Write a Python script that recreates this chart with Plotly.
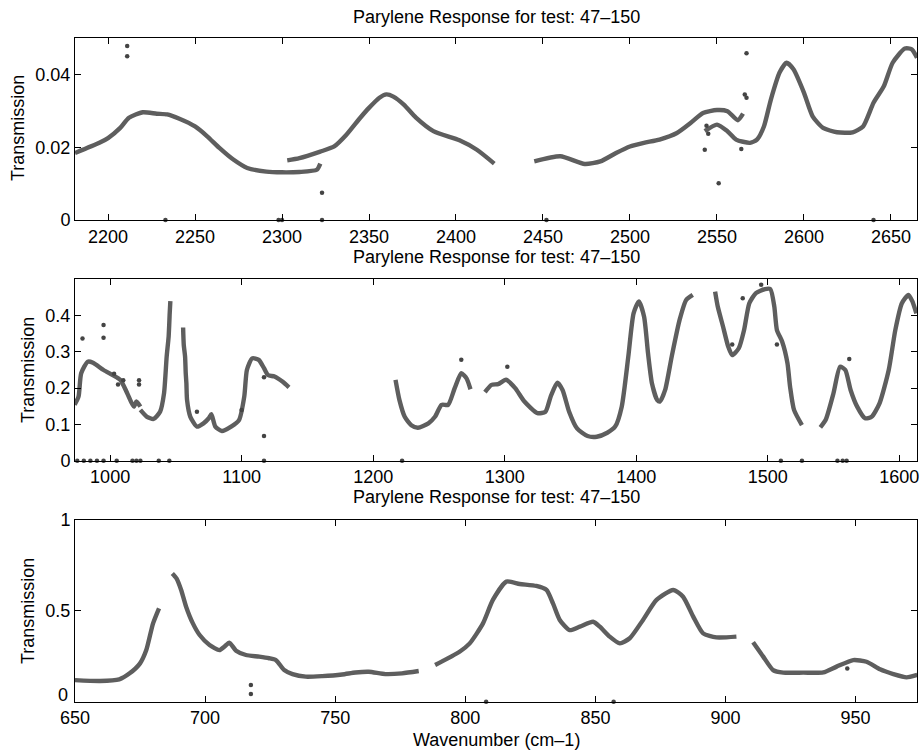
import plotly.graph_objects as go

# ---------------- data ----------------
# Top panel (2181-2665 cm-1); None separates disconnected segments
top_x = [2181, 2195, 2200, 2207, 2212, 2220, 2228, 2234, 2241, 2250, 2257, 2264, 2272, 2280, 2291, 2300, 2310, 2320, 2322, None,
         2303, 2310, 2322, 2330, 2337, 2345, 2350, 2356, 2360, 2364, 2370, 2377, 2387, 2402, 2412, 2422, None,
         2445, 2460, 2474, 2483, 2492, 2500, 2508, 2517, 2527, 2535, 2542, 2550, 2556, 2562, 2565, None,
         2543, 2550, 2556, 2561, 2569, 2573, 2577, 2581, 2586, 2590, 2594, 2600, 2605, 2611, 2619, 2628, 2634, 2640, 2646, 2651, 2658, 2662, 2665]
top_y = [0.0184, 0.0212, 0.0225, 0.0253, 0.0281, 0.0296, 0.0292, 0.0290, 0.0278, 0.0257, 0.0230, 0.0198, 0.0166, 0.0143, 0.0133, 0.0131, 0.0132, 0.0138, 0.0155, None,
         0.0164, 0.0170, 0.0188, 0.0202, 0.0234, 0.0281, 0.0308, 0.0336, 0.0345, 0.0339, 0.0317, 0.0281, 0.0244, 0.0219, 0.0193, 0.0155, None,
         0.0161, 0.0175, 0.0154, 0.0161, 0.0184, 0.0202, 0.0212, 0.0221, 0.0239, 0.0267, 0.0294, 0.0302, 0.0299, 0.0274, 0.0292, None,
         0.0244, 0.0262, 0.0244, 0.0221, 0.0212, 0.0221, 0.0257, 0.0331, 0.0405, 0.0432, 0.0414, 0.0350, 0.0285, 0.0253, 0.0241, 0.0241, 0.0257, 0.0322, 0.0368, 0.0432, 0.0471, 0.0469, 0.0446]
top_out_x = [2211, 2211, 2323, 2551, 2564, 2543, 2566, 2567, 2567, 2544, 2545, 2233, 2298, 2300, 2323, 2452, 2640]
top_out_y = [0.0478, 0.0450, 0.0075, 0.0101, 0.0195, 0.0193, 0.0345, 0.0336, 0.0458, 0.0259, 0.0237, 0, 0, 0, 0, 0, 0]

# Middle panel (973-1613 cm-1)
mid_x = [973, 976, 978, 983, 987, 995, 1002, 1008, 1013, 1018, 1020, 1023, None,
         1023, 1028, 1033, 1038, 1041, 1043, 1044.5, 1045.3, 1045.8, None,
         1055.5, 1056, 1057, 1057.5, 1058, 1058.5, 1061, 1066, 1071, 1075, 1077, 1080, 1085, 1092, 1098, 1102, 1104, 1108, 1113, 1117, 1120, 1125, 1131, 1136, None,
         1217, 1220, 1224, 1229, 1234, 1242, 1247, 1252, 1257, 1262, 1267, 1271, 1274, None,
         1285, 1290, 1295, 1301, 1308, 1315, 1325, 1331, 1335, 1340, 1344, 1349, 1355, 1363, 1370, 1378, 1384, 1389, 1394, 1398, 1402, 1406, 1409, 1412, 1416, 1418, 1422, 1427, 1433, 1438, 1443, None,
         1460, 1462, 1466, 1470, 1473, 1478, 1482, 1486, 1491, 1498, 1502, 1505, 1507, 1511, 1515, 1517, 1520, 1526, None,
         1540, 1544, 1550, 1555, 1559, 1563, 1568, 1574, 1579, 1585, 1592, 1597, 1602, 1607, 1610, 1613]
mid_y = [0.154, 0.177, 0.241, 0.273, 0.270, 0.250, 0.236, 0.222, 0.186, 0.149, 0.163, 0.149, None,
         0.140, 0.121, 0.115, 0.135, 0.186, 0.287, 0.342, 0.406, 0.440, None,
         0.367, 0.319, 0.287, 0.241, 0.213, 0.167, 0.121, 0.094, 0.103, 0.117, 0.128, 0.094, 0.082, 0.094, 0.112, 0.177, 0.250, 0.282, 0.278, 0.255, 0.236, 0.232, 0.218, 0.202, None,
         0.223, 0.167, 0.121, 0.098, 0.091, 0.103, 0.121, 0.154, 0.154, 0.200, 0.241, 0.227, 0.197, None,
         0.189, 0.209, 0.211, 0.223, 0.200, 0.163, 0.131, 0.135, 0.177, 0.215, 0.195, 0.135, 0.089, 0.068, 0.066, 0.077, 0.094, 0.149, 0.287, 0.406, 0.439, 0.397, 0.296, 0.213, 0.167, 0.163, 0.195, 0.287, 0.388, 0.443, 0.457, None,
         0.466, 0.425, 0.370, 0.314, 0.291, 0.310, 0.360, 0.434, 0.462, 0.473, 0.473, 0.425, 0.360, 0.328, 0.269, 0.204, 0.140, 0.098, None,
         0.092, 0.112, 0.186, 0.259, 0.250, 0.195, 0.149, 0.117, 0.121, 0.158, 0.250, 0.360, 0.434, 0.457, 0.439, 0.406]
mid_out_x = [979, 995, 995, 1003, 1006, 1010, 1022, 1022, 1066, 1100, 1117, 1117, 1267, 1302, 1481, 1495, 1507, 1562, 1473,
             975, 980, 985, 990, 995, 1005, 1017, 1020, 1023, 1037, 1045, 1117, 1222, 1510, 1526, 1553, 1557, 1560]
mid_out_y = [0.337, 0.339, 0.374, 0.240, 0.210, 0.222, 0.210, 0.222, 0.135, 0.140, 0.230, 0.068, 0.278, 0.259, 0.448, 0.485, 0.320, 0.280, 0.320,
             0, 0, 0, 0, 0, 0, 0, 0, 0, 0, 0, 0, 0, 0, 0, 0, 0, 0]

# Bottom panel (650-974 cm-1)
bot_x = [650, 659.6, 667, 671, 675, 677.4, 680, 682.3, None,
         687.4, 689, 690.8, 692.7, 695.3, 697.9, 701.7, 705.5, 707.4, 709.3, 711.9, 715.7, 720.8, 724.6, 727.2, 730.4, 733.6, 738.7, 745, 752.7, 757.8, 762.9, 769.3, 775.7, 782.1, None,
         788.4, 797.8, 801.7, 806.8, 810.6, 815.8, 820.9, 827.3, 831.2, 833.7, 836.3, 840.1, 844, 849.1, 851.7, 855.5, 859.4, 863.2, 868.3, 873.5, 879.9, 883.7, 887.6, 891.4, 896.5, 904.2, None,
         910.6, 914.5, 918.3, 922.2, 929.9, 937.6, 942.7, 949.1, 954.2, 959.4, 964.5, 969.6, 973.7]
bot_y = [0.119, 0.114, 0.123, 0.156, 0.211, 0.284, 0.431, 0.514, None,
         0.706, 0.679, 0.615, 0.523, 0.431, 0.367, 0.312, 0.284, 0.303, 0.325, 0.281, 0.257, 0.248, 0.239, 0.229, 0.174, 0.152, 0.138, 0.141, 0.150, 0.161, 0.165, 0.152, 0.156, 0.169, None,
         0.202, 0.275, 0.321, 0.431, 0.560, 0.661, 0.648, 0.637, 0.615, 0.541, 0.450, 0.394, 0.413, 0.440, 0.413, 0.358, 0.321, 0.349, 0.450, 0.560, 0.615, 0.578, 0.468, 0.376, 0.354, 0.358, None,
         0.327, 0.248, 0.174, 0.160, 0.160, 0.161, 0.193, 0.229, 0.220, 0.178, 0.152, 0.134, 0.147]
bot_out_x = [717.6, 717.6, 946.8, 808, 857]
bot_out_y = [0.092, 0.042, 0.183, 0, 0]

title_text = "Parylene Response for test: 47\u2013150"
ylabel = "Transmission"
xlabel = "Wavenumber (cm\u20131)"

# ---------------- figure ----------------
W, H = 922, 752
FONT = "Liberation Sans, Arial, Helvetica, sans-serif"
FS = 18
LINE_COL = "#5e5e5e"
DOT_COL = "#444444"

fig = go.Figure()
panels = [
    (top_x, top_y, top_out_x, top_out_y, "x", "y"),
    (mid_x, mid_y, mid_out_x, mid_out_y, "x2", "y2"),
    (bot_x, bot_y, bot_out_x, bot_out_y, "x3", "y3"),
]
for px, py, ox, oy, xa, ya in panels:
    fig.add_trace(go.Scatter(x=px, y=py, mode="lines",
                             line=dict(color=LINE_COL, width=4.4, shape="spline", smoothing=0.6),
                             connectgaps=False, xaxis=xa, yaxis=ya, showlegend=False, hoverinfo="skip"))
    fig.add_trace(go.Scatter(x=ox, y=oy, mode="markers", marker=dict(color=DOT_COL, size=4.5),
                             xaxis=xa, yaxis=ya, showlegend=False, cliponaxis=False, hoverinfo="skip"))

x0, x1 = 75 / W, 917 / W
def ydom(top_px, bot_px):
    return [1 - bot_px / H, 1 - top_px / H]

axis_common = dict(showline=True, linecolor="black", linewidth=1, mirror="ticks", ticks="inside",
                   ticklen=6, tickcolor="black", showgrid=False, zeroline=False, automargin=False,
                   tickfont=dict(family=FONT, size=FS, color="black"))

fig.update_layout(
    width=W, height=H, margin=dict(l=0, r=0, t=0, b=0, pad=0, autoexpand=False),
    paper_bgcolor="white", plot_bgcolor="white",
    xaxis=dict(domain=[x0, x1], range=[2181, 2665], tickvals=[2200, 2250, 2300, 2350, 2400, 2450, 2500, 2550, 2600, 2650], anchor="y", **axis_common),
    yaxis=dict(domain=ydom(38, 220), range=[0, 0.05], tickvals=[0, 0.02, 0.04], ticktext=["0", "0.02", "0.04"], anchor="x", **axis_common),
    xaxis2=dict(domain=[x0, x1], range=[973.3, 1613.5], tickvals=[1000, 1100, 1200, 1300, 1400, 1500, 1600], anchor="y2", **axis_common),
    yaxis2=dict(domain=ydom(279.3, 460.7), range=[0, 0.5], tickvals=[0, 0.1, 0.2, 0.3, 0.4], ticktext=["0", "0.1", "0.2", "0.3", "0.4"], anchor="x2", **axis_common),
    xaxis3=dict(domain=[x0, x1], range=[650, 973.6], tickvals=[650, 700, 750, 800, 850, 900, 950], anchor="y3", **axis_common),
    yaxis3=dict(domain=ydom(520, 701.7), range=[0, 1], tickvals=[0, 0.5, 1], ticktext=["", "0.5", "1"], anchor="x3", **axis_common),
)

ann = []
cx = (75 + 917) / 2 / W
for yc in (17, 257, 497):
    ann.append(dict(text=title_text, x=cx, y=1 - yc / H, xref="paper", yref="paper", showarrow=False,
                    xanchor="center", yanchor="middle", font=dict(family=FONT, size=FS, color="black")))
for xc, yc in ((18, 128), (28, 370), (28, 611)):
    ann.append(dict(text=ylabel, x=xc / W, y=1 - yc / H, xref="paper", yref="paper", showarrow=False,
                    textangle=-90, xanchor="center", yanchor="middle", font=dict(family=FONT, size=FS, color="black")))
ann.append(dict(text=xlabel, x=cx, y=1 - 740 / H, xref="paper", yref="paper", showarrow=False,
                xanchor="center", yanchor="middle", font=dict(family=FONT, size=FS, color="black")))
# bottom-panel "0" label sits slightly above the axis corner in the reference
ann.append(dict(text="0", x=70 / W, y=1 - 695 / H, xref="paper", yref="paper", showarrow=False,
                xanchor="right", yanchor="middle", font=dict(family=FONT, size=FS, color="black")))
fig.update_layout(annotations=ann)

fig.write_html("out.html")
